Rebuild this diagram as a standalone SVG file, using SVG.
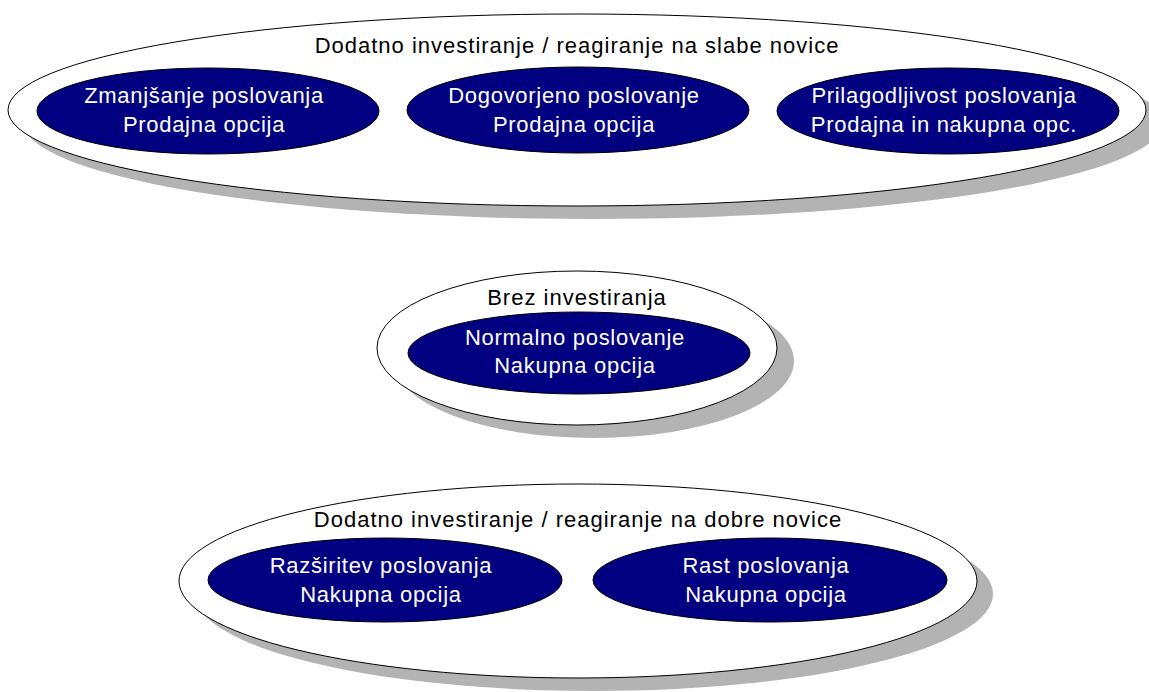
<svg xmlns="http://www.w3.org/2000/svg" width="1149" height="692" viewBox="0 0 1149 692">
  <style>
    .shadow { fill: #b3b3b3; stroke: none; }
    .group { fill: #ffffff; stroke: #000000; stroke-width: 1; }
    .node { fill: #000080; stroke: #000000; stroke-width: 1; }
    .title { font-family: "Liberation Sans", Arial, sans-serif; font-size: 22px; letter-spacing: 1px; fill: #000000; text-anchor: middle; }
    .label { font-family: "Liberation Sans", Arial, sans-serif; font-size: 22px; letter-spacing: 0.7px; fill: #ffffff; text-anchor: middle; }
  </style>
  <rect width="1149" height="692" fill="#ffffff"/>

  <!-- Group: additional investment, reacting to bad news -->
  <g id="group-bad-news">
    <ellipse class="shadow" cx="593" cy="123" rx="569" ry="96"/>
    <ellipse class="group" cx="577" cy="110" rx="569" ry="96"/>
    <text class="title" x="577" y="53">Dodatno investiranje / reagiranje na slabe novice</text>
  </g>
  <g id="node-zmanjsanje">
    <ellipse class="node" cx="208" cy="111" rx="171" ry="43"/>
    <text class="label" x="204" y="103">Zmanjšanje poslovanja</text>
    <text class="label" x="204" y="132">Prodajna opcija</text>
  </g>
  <g id="node-dogovorjeno">
    <ellipse class="node" cx="578" cy="110" rx="171" ry="43"/>
    <text class="label" x="574" y="103">Dogovorjeno poslovanje</text>
    <text class="label" x="574" y="132">Prodajna opcija</text>
  </g>
  <g id="node-prilagodljivost">
    <ellipse class="node" cx="948" cy="111" rx="171" ry="43"/>
    <text class="label" x="944" y="103">Prilagodljivost poslovanja</text>
    <text class="label" x="944" y="132">Prodajna in nakupna opc.</text>
  </g>

  <!-- Group: no investment -->
  <g id="group-no-investment">
    <ellipse class="shadow" cx="594" cy="361" rx="200" ry="77"/>
    <ellipse class="group" cx="577" cy="348" rx="200" ry="77"/>
    <text class="title" x="577" y="305">Brez investiranja</text>
  </g>
  <g id="node-normalno">
    <ellipse class="node" cx="579" cy="353" rx="171" ry="41"/>
    <text class="label" x="575" y="345">Normalno poslovanje</text>
    <text class="label" x="575" y="373">Nakupna opcija</text>
  </g>

  <!-- Group: additional investment, reacting to good news -->
  <g id="group-good-news">
    <ellipse class="shadow" cx="594" cy="594" rx="399" ry="97"/>
    <ellipse class="group" cx="578" cy="581" rx="399" ry="97"/>
    <text class="title" x="578" y="527">Dodatno investiranje / reagiranje na dobre novice</text>
  </g>
  <g id="node-razsiritev">
    <ellipse class="node" cx="385" cy="580" rx="177" ry="42"/>
    <text class="label" x="381" y="573">Razširitev poslovanja</text>
    <text class="label" x="381" y="602">Nakupna opcija</text>
  </g>
  <g id="node-rast">
    <ellipse class="node" cx="770" cy="580" rx="177" ry="42"/>
    <text class="label" x="766" y="573">Rast poslovanja</text>
    <text class="label" x="766" y="602">Nakupna opcija</text>
  </g>

  <g id="connectors"/>
</svg>
